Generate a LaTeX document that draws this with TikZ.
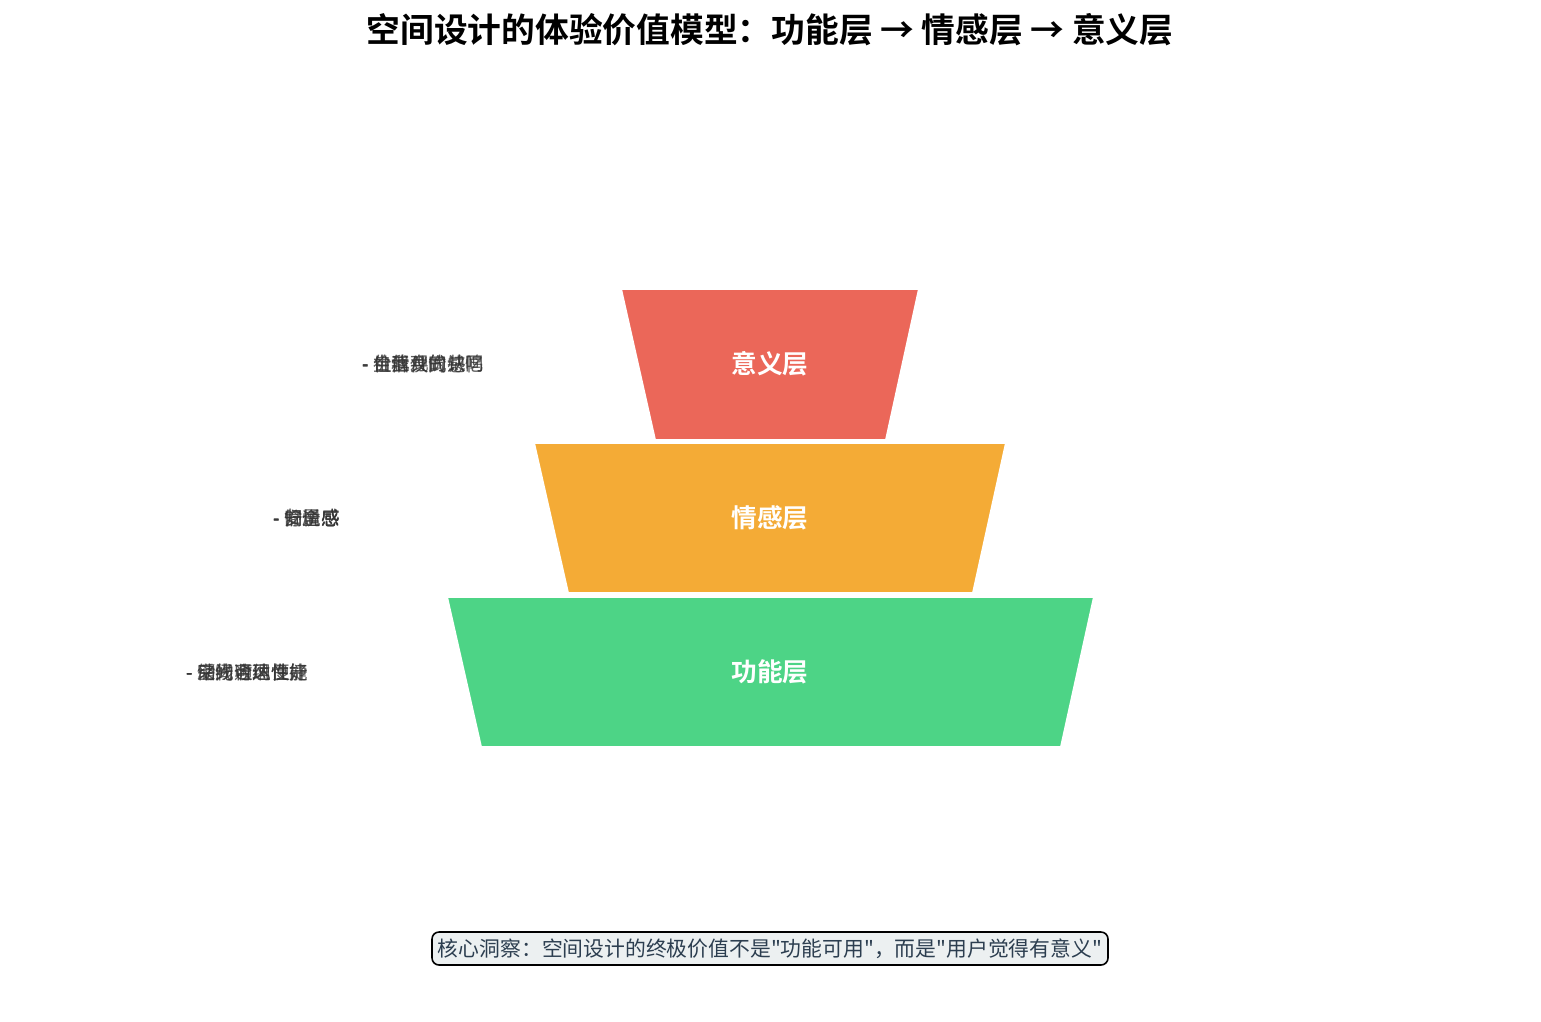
\documentclass[tikz,border=0pt]{standalone}
\usepackage{fontspec}
\setmainfont{Noto Sans CJK SC}[BoldFont={Noto Sans CJK SC Bold}, Ligatures=TeXOff]
\usepackage{tikz}

\definecolor{meaningred}{RGB}{235,103,89}
\definecolor{emotionorange}{RGB}{244,171,54}
\definecolor{functiongreen}{RGB}{77,212,134}
\definecolor{notegray}{RGB}{236,240,241}
\definecolor{notetext}{RGB}{44,62,80}
\definecolor{sidetext}{RGB}{51,51,51}

\begin{document}
\begin{tikzpicture}[x=0.02cm, y=-0.02cm, line width=1.1pt,
  layer/.style={draw=white, line join=round},
  layertext/.style={text=white, font=\fontsize{14.6}{17}\selectfont\bfseries},
  sidenote/.style={anchor=west, inner sep=0pt, text=sidetext, opacity=0.8,
    font=\fontsize{10.5}{12}\selectfont}]
\useasboundingbox (0,0) rectangle (1541,1021) ;
\node (title) at (770,30) {\fontsize{19.2}{23}\selectfont\bfseries 空间设计的体验价值模型：功能层 → 情感层 → 意义层} ;
% meaning layer
\coordinate (M1) at (621,289) ;
\coordinate (M2) at (919,289) ;
\coordinate (M3) at (886,440) ;
\coordinate (M4) at (655,440) ;
\draw[layer, fill=meaningred] (M1) -- (M2) -- (M3) -- (M4) -- cycle ;
\node[layertext] (meaning) at (770,364) {意义层} ;
% emotion layer
\coordinate (E1) at (534,443) ;
\coordinate (E2) at (1006,443) ;
\coordinate (E3) at (973,593) ;
\coordinate (E4) at (568,593) ;
\draw[layer, fill=emotionorange] (E1) -- (E2) -- (E3) -- (E4) -- cycle ;
\node[layertext] (emotion) at (770,518) {情感层} ;
% function layer
\coordinate (F1) at (447,597) ;
\coordinate (F2) at (1094,597) ;
\coordinate (F3) at (1061,747) ;
\coordinate (F4) at (481,747) ;
\draw[layer, fill=functiongreen] (F1) -- (F2) -- (F3) -- (F4) -- cycle ;
\node[layertext] (function) at (770,672) {功能层} ;
% side notes, drawn over one another
\foreach \t in {生活仪式感, 价值观的共鸣, 社群共同记忆, 自我身份认同}
  \node[sidenote] at (362,364) {- \t} ;
\foreach \t in {舒适感, 安全感, 愉悦感, 归属感}
  \node[sidenote] at (273,518) {- \t} ;
\foreach \t in {动线合理性, 空间可达性能, 储物收纳便捷, 采光通风良好}
  \node[sidenote] at (186,672) {- \t} ;
% insight box
\node[draw=black, fill=notegray, rounded corners=4pt, line width=0.9pt,
  text=notetext, minimum width=676*0.02cm, minimum height=33*0.02cm, inner sep=0pt,
  font=\fontsize{11.85}{14}\selectfont] (insight) at (770,948.5)
  {核心洞察：空间设计的终极价值不是"功能可用"，而是"用户觉得有意义"} ;
\end{tikzpicture}
\end{document}
